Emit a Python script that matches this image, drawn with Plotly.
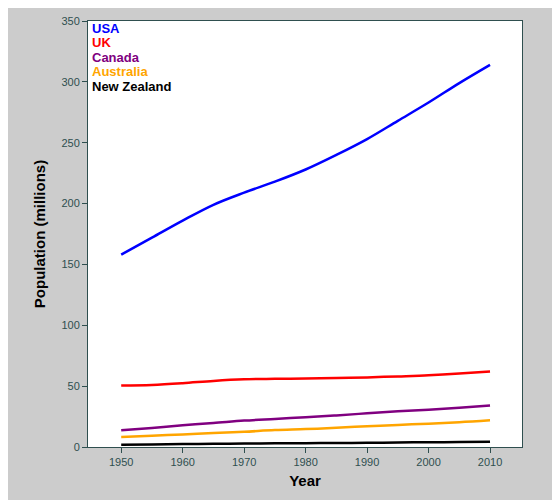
import plotly.graph_objects as go

years = [1950,1955,1960,1965,1970,1975,1980,1985,1990,1995,2000,2005,2010]
usa = [158,172,186,199,209,218,228,240,253,268,283,299,314]
uk = [50.6,51,52.4,54.3,55.6,56,56.3,56.6,57.2,58,58.9,60.3,62]
canada = [13.7,15.7,17.9,19.7,21.7,23.1,24.5,25.9,27.7,29.3,30.7,32.2,34]
australia = [8.2,9.3,10.3,11.4,12.5,13.9,14.7,15.8,17.1,18.1,19.2,20.4,22]
nz = [1.9,2.1,2.4,2.6,2.8,3.1,3.1,3.3,3.4,3.7,3.9,4.1,4.4]
names = ["USA","UK","Canada","Australia","New Zealand"]
colors = ["#0000ff","#ff0000","#800080","#ffa500","#000000"]

fig = go.Figure()
for n, c, v in zip(names, colors, [usa, uk, canada, australia, nz]):
    fig.add_trace(go.Scatter(x=years, y=v, mode="lines", name=n,
                             line=dict(color=c, width=2.5, shape="spline")))
for i, (n, c) in enumerate(zip(names, colors)):
    fig.add_annotation(x=0.005, y=1.005 - i*0.034, xref="paper", yref="paper",
                       xanchor="left", yanchor="top", text="<b>%s</b>" % n,
                       showarrow=False, font=dict(color=c, size=13, family="Arial"))
ax = dict(showgrid=False, zeroline=False, showline=True, mirror=True,
          linecolor="#2f4f4f", linewidth=1, ticks="outside", ticklen=5,
          tickcolor="#2f4f4f", tickfont=dict(color="#2f4f4f", size=11, family="Arial"))
fig.update_xaxes(**ax, range=[1944.6, 2015.2], tickvals=years[::2],
                 title=dict(text="<b>Year</b>", font=dict(size=15, color="black", family="Arial"), standoff=8))
fig.update_yaxes(**ax, range=[0, 350], dtick=50,
                 title=dict(text="<b>Population (millions)</b>", font=dict(size=15, color="black", family="Arial"), standoff=12))
fig.update_layout(width=560, height=500, showlegend=False,
                  paper_bgcolor="#cccccc", plot_bgcolor="white",
                  margin=dict(l=80, r=46, t=7, b=61))
fig.write_html("out.html")
